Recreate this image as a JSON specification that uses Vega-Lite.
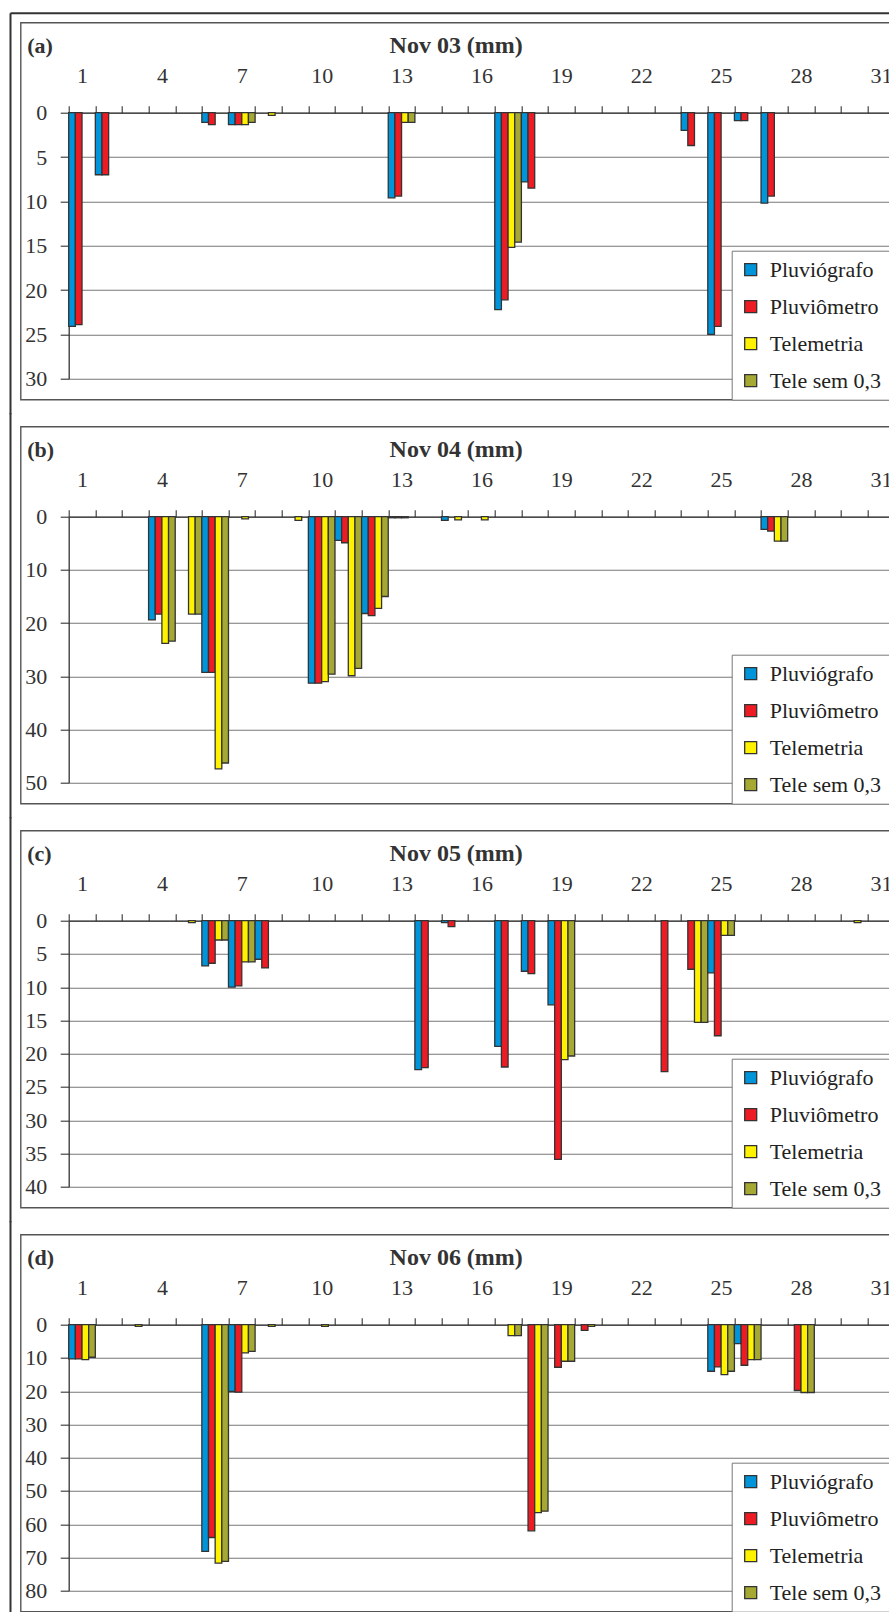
{
  "$schema": "https://vega.github.io/schema/vega-lite/v6.json",
  "padding": {"left": 8.7, "top": 11.7, "right": 0, "bottom": 0},
  "background": "white",
  "spacing": 27,
  "bounds": "flush",
  "resolve": {"scale": {"color": "independent"}, "legend": {"color": "independent"}},
  "datasets": {
    "a": [
      {"day": 1, "serie": "Pluviógrafo", "value": 24.1}, {"day": 1, "serie": "Pluviômetro", "value": 23.9},
      {"day": 2, "serie": "Pluviógrafo", "value": 7.0}, {"day": 2, "serie": "Pluviômetro", "value": 7.0},
      {"day": 6, "serie": "Pluviógrafo", "value": 1.1}, {"day": 6, "serie": "Pluviômetro", "value": 1.35},
      {"day": 7, "serie": "Pluviógrafo", "value": 1.35}, {"day": 7, "serie": "Pluviômetro", "value": 1.35}, {"day": 7, "serie": "Telemetria", "value": 1.35}, {"day": 7, "serie": "Tele sem 0,3", "value": 1.1},
      {"day": 8, "serie": "Telemetria", "value": 0.3},
      {"day": 13, "serie": "Pluviógrafo", "value": 9.6}, {"day": 13, "serie": "Pluviômetro", "value": 9.4}, {"day": 13, "serie": "Telemetria", "value": 1.1}, {"day": 13, "serie": "Tele sem 0,3", "value": 1.1},
      {"day": 17, "serie": "Pluviógrafo", "value": 22.2}, {"day": 17, "serie": "Pluviômetro", "value": 21.1}, {"day": 17, "serie": "Telemetria", "value": 15.2}, {"day": 17, "serie": "Tele sem 0,3", "value": 14.6},
      {"day": 18, "serie": "Pluviógrafo", "value": 7.8}, {"day": 18, "serie": "Pluviômetro", "value": 8.5},
      {"day": 24, "serie": "Pluviógrafo", "value": 2.0}, {"day": 24, "serie": "Pluviômetro", "value": 3.7},
      {"day": 25, "serie": "Pluviógrafo", "value": 25.0}, {"day": 25, "serie": "Pluviômetro", "value": 24.1},
      {"day": 26, "serie": "Pluviógrafo", "value": 0.9}, {"day": 26, "serie": "Pluviômetro", "value": 0.9},
      {"day": 27, "serie": "Pluviógrafo", "value": 10.2}, {"day": 27, "serie": "Pluviômetro", "value": 9.4}
    ],
    "b": [
      {"day": 4, "serie": "Pluviógrafo", "value": 19.4}, {"day": 4, "serie": "Pluviômetro", "value": 18.3}, {"day": 4, "serie": "Telemetria", "value": 23.8}, {"day": 4, "serie": "Tele sem 0,3", "value": 23.4},
      {"day": 5, "serie": "Telemetria", "value": 18.3}, {"day": 5, "serie": "Tele sem 0,3", "value": 18.3},
      {"day": 6, "serie": "Pluviógrafo", "value": 29.25}, {"day": 6, "serie": "Pluviômetro", "value": 29.25}, {"day": 6, "serie": "Telemetria", "value": 47.4}, {"day": 6, "serie": "Tele sem 0,3", "value": 46.3},
      {"day": 7, "serie": "Telemetria", "value": 0.4},
      {"day": 9, "serie": "Telemetria", "value": 0.7},
      {"day": 10, "serie": "Pluviógrafo", "value": 31.3}, {"day": 10, "serie": "Pluviômetro", "value": 31.3}, {"day": 10, "serie": "Telemetria", "value": 31.0}, {"day": 10, "serie": "Tele sem 0,3", "value": 29.6},
      {"day": 11, "serie": "Pluviógrafo", "value": 4.45}, {"day": 11, "serie": "Pluviômetro", "value": 4.9}, {"day": 11, "serie": "Telemetria", "value": 29.9}, {"day": 11, "serie": "Tele sem 0,3", "value": 28.5},
      {"day": 12, "serie": "Pluviógrafo", "value": 18.2}, {"day": 12, "serie": "Pluviômetro", "value": 18.6}, {"day": 12, "serie": "Telemetria", "value": 17.25}, {"day": 12, "serie": "Tele sem 0,3", "value": 15.0},
      {"day": 13, "serie": "Pluviógrafo", "value": 0.2}, {"day": 13, "serie": "Pluviômetro", "value": 0.2}, {"day": 13, "serie": "Telemetria", "value": 0.2},
      {"day": 15, "serie": "Pluviógrafo", "value": 0.7}, {"day": 15, "serie": "Telemetria", "value": 0.6},
      {"day": 16, "serie": "Telemetria", "value": 0.6},
      {"day": 27, "serie": "Pluviógrafo", "value": 2.4}, {"day": 27, "serie": "Pluviômetro", "value": 2.7}, {"day": 27, "serie": "Telemetria", "value": 4.6}, {"day": 27, "serie": "Tele sem 0,3", "value": 4.6}
    ],
    "c": [
      {"day": 5, "serie": "Telemetria", "value": 0.3},
      {"day": 6, "serie": "Pluviógrafo", "value": 6.8}, {"day": 6, "serie": "Pluviômetro", "value": 6.4}, {"day": 6, "serie": "Telemetria", "value": 2.9}, {"day": 6, "serie": "Tele sem 0,3", "value": 2.9},
      {"day": 7, "serie": "Pluviógrafo", "value": 10.0}, {"day": 7, "serie": "Pluviômetro", "value": 9.8}, {"day": 7, "serie": "Telemetria", "value": 6.2}, {"day": 7, "serie": "Tele sem 0,3", "value": 6.2},
      {"day": 8, "serie": "Pluviógrafo", "value": 5.8}, {"day": 8, "serie": "Pluviômetro", "value": 7.1},
      {"day": 14, "serie": "Pluviógrafo", "value": 22.4}, {"day": 14, "serie": "Pluviômetro", "value": 22.1},
      {"day": 15, "serie": "Pluviógrafo", "value": 0.3}, {"day": 15, "serie": "Pluviômetro", "value": 0.9},
      {"day": 17, "serie": "Pluviógrafo", "value": 18.9}, {"day": 17, "serie": "Pluviômetro", "value": 22.0},
      {"day": 18, "serie": "Pluviógrafo", "value": 7.6}, {"day": 18, "serie": "Pluviômetro", "value": 7.95},
      {"day": 19, "serie": "Pluviógrafo", "value": 12.65}, {"day": 19, "serie": "Pluviômetro", "value": 35.9}, {"day": 19, "serie": "Telemetria", "value": 20.9}, {"day": 19, "serie": "Tele sem 0,3", "value": 20.35},
      {"day": 23, "serie": "Pluviômetro", "value": 22.7},
      {"day": 24, "serie": "Pluviômetro", "value": 7.3}, {"day": 24, "serie": "Telemetria", "value": 15.3}, {"day": 24, "serie": "Tele sem 0,3", "value": 15.3},
      {"day": 25, "serie": "Pluviógrafo", "value": 7.85}, {"day": 25, "serie": "Pluviômetro", "value": 17.3}, {"day": 25, "serie": "Telemetria", "value": 2.2}, {"day": 25, "serie": "Tele sem 0,3", "value": 2.2},
      {"day": 30, "serie": "Telemetria", "value": 0.3}
    ],
    "d": [
      {"day": 1, "serie": "Pluviógrafo", "value": 10.3}, {"day": 1, "serie": "Pluviômetro", "value": 10.3}, {"day": 1, "serie": "Telemetria", "value": 10.5}, {"day": 1, "serie": "Tele sem 0,3", "value": 9.8},
      {"day": 3, "serie": "Telemetria", "value": 0.5},
      {"day": 6, "serie": "Pluviógrafo", "value": 68.2}, {"day": 6, "serie": "Pluviômetro", "value": 64.0}, {"day": 6, "serie": "Telemetria", "value": 71.7}, {"day": 6, "serie": "Tele sem 0,3", "value": 71.2},
      {"day": 7, "serie": "Pluviógrafo", "value": 20.1}, {"day": 7, "serie": "Pluviômetro", "value": 20.3}, {"day": 7, "serie": "Telemetria", "value": 8.5}, {"day": 7, "serie": "Tele sem 0,3", "value": 8.0},
      {"day": 8, "serie": "Telemetria", "value": 0.5},
      {"day": 10, "serie": "Telemetria", "value": 0.5},
      {"day": 17, "serie": "Telemetria", "value": 3.3}, {"day": 17, "serie": "Tele sem 0,3", "value": 3.3},
      {"day": 18, "serie": "Pluviômetro", "value": 62.0}, {"day": 18, "serie": "Telemetria", "value": 56.5}, {"day": 18, "serie": "Tele sem 0,3", "value": 56.1},
      {"day": 19, "serie": "Pluviômetro", "value": 12.8}, {"day": 19, "serie": "Telemetria", "value": 11.0}, {"day": 19, "serie": "Tele sem 0,3", "value": 11.0},
      {"day": 20, "serie": "Pluviômetro", "value": 1.7}, {"day": 20, "serie": "Telemetria", "value": 0.5},
      {"day": 25, "serie": "Pluviógrafo", "value": 14.0}, {"day": 25, "serie": "Pluviômetro", "value": 12.7}, {"day": 25, "serie": "Telemetria", "value": 15.0}, {"day": 25, "serie": "Tele sem 0,3", "value": 14.0},
      {"day": 26, "serie": "Pluviógrafo", "value": 5.7}, {"day": 26, "serie": "Pluviômetro", "value": 12.2}, {"day": 26, "serie": "Telemetria", "value": 10.5}, {"day": 26, "serie": "Tele sem 0,3", "value": 10.5},
      {"day": 28, "serie": "Pluviômetro", "value": 19.8}, {"day": 28, "serie": "Telemetria", "value": 20.4}, {"day": 28, "serie": "Tele sem 0,3", "value": 20.4}
    ]
  },
  "vconcat": [
    {
      "width": 869, "height": 377,
      "resolve": {"scale": {"x": "independent", "y": "independent"}, "axis": {"x": "independent", "y": "independent"}},
      "layer": [
        {
          "data": {"name": "a"},
          "mark": {"type": "bar", "stroke": "#333333", "strokeWidth": 1.3},
          "encoding": {
            "x": {"field": "day", "type": "ordinal",
              "scale": {"domain": [1,2,3,4,5,6,7,8,9,10,11,12,13,14,15,16,17,18,19,20,21,22,23,24,25,26,27,28,29,30,31], "range": [48, 873.5], "paddingInner": 0, "paddingOuter": 0},
              "axis": {"orient": "top", "offset": -90, "title": "Nov 03 (mm)", "titleX": 435, "titleY": -60}},
            "xOffset": {"field": "serie", "type": "nominal", "scale": {"domain": ["Pluviógrafo", "Pluviômetro", "Telemetria", "Tele sem 0,3"], "paddingInner": 0, "paddingOuter": 0}},
            "y": {"field": "value", "type": "quantitative",
              "scale": {"domain": [0, 30], "range": [90, 356], "nice": false},
              "axis": {"orient": "left", "offset": 0, "values": [0, 5, 10, 15, 20, 25, 30], "grid": true, "domain": false, "ticks": false, "labels": false, "title": null}},
            "color": {"field": "serie", "type": "nominal",
              "scale": {"domain": ["Pluviógrafo", "Pluviômetro", "Telemetria", "Tele sem 0,3"], "range": ["#0095da", "#ed1c24", "#fff200", "#a5a833"]},
              "legend": {"title": null}}
          }
        },
        {
          "data": {"name": "a"},
          "mark": {"type": "point", "opacity": 0},
          "encoding": {
            "x": {"field": "day", "type": "ordinal", "scale": {"domain": [1,2,3,4,5,6,7,8,9,10,11,12,13,14,15,16,17,18,19,20,21,22,23,24,25,26,27,28,29,30,31], "range": [48, 873.5], "paddingInner": 0, "paddingOuter": 0}, "axis": null},
            "y": {"field": "value", "type": "quantitative",
              "scale": {"domain": [0, 30], "range": [90, 356], "nice": false},
              "axis": {"orient": "left", "offset": -48, "values": [0, 5, 10, 15, 20, 25, 30], "grid": false, "title": "(a)"}}
          }
        },
        {
          "data": {"values": [{}]},
          "mark": {"type": "point", "opacity": 0},
          "encoding": {
            "x": {"datum": 0.5, "type": "quantitative", "scale": {"domain": [0, 1], "range": [-10.7, 900]},
              "axis": {"orient": "top", "offset": 10, "tickBand": "center", "domain": true, "domainWidth": 2, "domainColor": "#333333", "ticks": false, "labels": false, "grid": false, "title": null}},
            "y": {"datum": 0.5, "type": "quantitative", "scale": {"domain": [0, 1], "range": [-10, 391]},
              "axis": {"orient": "left", "offset": 10.7, "domain": true, "domainWidth": 2, "domainColor": "#333333", "ticks": false, "labels": false, "grid": false, "title": null}}
          }
        }
      ]
    },
    {
      "width": 869, "height": 377,
      "resolve": {"scale": {"x": "independent", "y": "independent"}, "axis": {"x": "independent", "y": "independent"}},
      "layer": [
        {
          "data": {"name": "b"},
          "mark": {"type": "bar", "stroke": "#333333", "strokeWidth": 1.3},
          "encoding": {
            "x": {"field": "day", "type": "ordinal",
              "scale": {"domain": [1,2,3,4,5,6,7,8,9,10,11,12,13,14,15,16,17,18,19,20,21,22,23,24,25,26,27,28,29,30,31], "range": [48, 873.5], "paddingInner": 0, "paddingOuter": 0},
              "axis": {"orient": "top", "offset": -90, "title": "Nov 04 (mm)", "titleX": 435, "titleY": -60}},
            "xOffset": {"field": "serie", "type": "nominal", "scale": {"domain": ["Pluviógrafo", "Pluviômetro", "Telemetria", "Tele sem 0,3"], "paddingInner": 0, "paddingOuter": 0}},
            "y": {"field": "value", "type": "quantitative",
              "scale": {"domain": [0, 50], "range": [90, 356], "nice": false},
              "axis": {"orient": "left", "offset": 0, "values": [0, 10, 20, 30, 40, 50], "grid": true, "domain": false, "ticks": false, "labels": false, "title": null}},
            "color": {"field": "serie", "type": "nominal",
              "scale": {"domain": ["Pluviógrafo", "Pluviômetro", "Telemetria", "Tele sem 0,3"], "range": ["#0095da", "#ed1c24", "#fff200", "#a5a833"]},
              "legend": {"title": null}}
          }
        },
        {
          "data": {"name": "b"},
          "mark": {"type": "point", "opacity": 0},
          "encoding": {
            "x": {"field": "day", "type": "ordinal", "scale": {"domain": [1,2,3,4,5,6,7,8,9,10,11,12,13,14,15,16,17,18,19,20,21,22,23,24,25,26,27,28,29,30,31], "range": [48, 873.5], "paddingInner": 0, "paddingOuter": 0}, "axis": null},
            "y": {"field": "value", "type": "quantitative",
              "scale": {"domain": [0, 50], "range": [90, 356], "nice": false},
              "axis": {"orient": "left", "offset": -48, "values": [0, 10, 20, 30, 40, 50], "grid": false, "title": "(b)"}}
          }
        },
        {
          "data": {"values": [{}]},
          "mark": {"type": "point", "opacity": 0},
          "encoding": {
            "y": {"datum": 0.5, "type": "quantitative", "scale": {"domain": [0, 1], "range": [-14, 391]},
              "axis": {"orient": "left", "offset": 10.7, "domain": true, "domainWidth": 2, "domainColor": "#333333", "ticks": false, "labels": false, "grid": false, "title": null}}
          }
        }
      ]
    },
    {
      "width": 869, "height": 377,
      "resolve": {"scale": {"x": "independent", "y": "independent"}, "axis": {"x": "independent", "y": "independent"}},
      "layer": [
        {
          "data": {"name": "c"},
          "mark": {"type": "bar", "stroke": "#333333", "strokeWidth": 1.3},
          "encoding": {
            "x": {"field": "day", "type": "ordinal",
              "scale": {"domain": [1,2,3,4,5,6,7,8,9,10,11,12,13,14,15,16,17,18,19,20,21,22,23,24,25,26,27,28,29,30,31], "range": [48, 873.5], "paddingInner": 0, "paddingOuter": 0},
              "axis": {"orient": "top", "offset": -90, "title": "Nov 05 (mm)", "titleX": 435, "titleY": -60}},
            "xOffset": {"field": "serie", "type": "nominal", "scale": {"domain": ["Pluviógrafo", "Pluviômetro", "Telemetria", "Tele sem 0,3"], "paddingInner": 0, "paddingOuter": 0}},
            "y": {"field": "value", "type": "quantitative",
              "scale": {"domain": [0, 40], "range": [90, 356], "nice": false},
              "axis": {"orient": "left", "offset": 0, "values": [0, 5, 10, 15, 20, 25, 30, 35, 40], "grid": true, "domain": false, "ticks": false, "labels": false, "title": null}},
            "color": {"field": "serie", "type": "nominal",
              "scale": {"domain": ["Pluviógrafo", "Pluviômetro", "Telemetria", "Tele sem 0,3"], "range": ["#0095da", "#ed1c24", "#fff200", "#a5a833"]},
              "legend": {"title": null}}
          }
        },
        {
          "data": {"name": "c"},
          "mark": {"type": "point", "opacity": 0},
          "encoding": {
            "x": {"field": "day", "type": "ordinal", "scale": {"domain": [1,2,3,4,5,6,7,8,9,10,11,12,13,14,15,16,17,18,19,20,21,22,23,24,25,26,27,28,29,30,31], "range": [48, 873.5], "paddingInner": 0, "paddingOuter": 0}, "axis": null},
            "y": {"field": "value", "type": "quantitative",
              "scale": {"domain": [0, 40], "range": [90, 356], "nice": false},
              "axis": {"orient": "left", "offset": -48, "values": [0, 5, 10, 15, 20, 25, 30, 35, 40], "grid": false, "title": "(c)"}}
          }
        },
        {
          "data": {"values": [{}]},
          "mark": {"type": "point", "opacity": 0},
          "encoding": {
            "y": {"datum": 0.5, "type": "quantitative", "scale": {"domain": [0, 1], "range": [-14, 391]},
              "axis": {"orient": "left", "offset": 10.7, "domain": true, "domainWidth": 2, "domainColor": "#333333", "ticks": false, "labels": false, "grid": false, "title": null}}
          }
        }
      ]
    },
    {
      "width": 869, "height": 377,
      "resolve": {"scale": {"x": "independent", "y": "independent"}, "axis": {"x": "independent", "y": "independent"}},
      "layer": [
        {
          "data": {"name": "d"},
          "mark": {"type": "bar", "stroke": "#333333", "strokeWidth": 1.3},
          "encoding": {
            "x": {"field": "day", "type": "ordinal",
              "scale": {"domain": [1,2,3,4,5,6,7,8,9,10,11,12,13,14,15,16,17,18,19,20,21,22,23,24,25,26,27,28,29,30,31], "range": [48, 873.5], "paddingInner": 0, "paddingOuter": 0},
              "axis": {"orient": "top", "offset": -90, "title": "Nov 06 (mm)", "titleX": 435, "titleY": -60}},
            "xOffset": {"field": "serie", "type": "nominal", "scale": {"domain": ["Pluviógrafo", "Pluviômetro", "Telemetria", "Tele sem 0,3"], "paddingInner": 0, "paddingOuter": 0}},
            "y": {"field": "value", "type": "quantitative",
              "scale": {"domain": [0, 80], "range": [90, 356], "nice": false},
              "axis": {"orient": "left", "offset": 0, "values": [0, 10, 20, 30, 40, 50, 60, 70, 80], "grid": true, "domain": false, "ticks": false, "labels": false, "title": null}},
            "color": {"field": "serie", "type": "nominal",
              "scale": {"domain": ["Pluviógrafo", "Pluviômetro", "Telemetria", "Tele sem 0,3"], "range": ["#0095da", "#ed1c24", "#fff200", "#a5a833"]},
              "legend": {"title": null}}
          }
        },
        {
          "data": {"name": "d"},
          "mark": {"type": "point", "opacity": 0},
          "encoding": {
            "x": {"field": "day", "type": "ordinal", "scale": {"domain": [1,2,3,4,5,6,7,8,9,10,11,12,13,14,15,16,17,18,19,20,21,22,23,24,25,26,27,28,29,30,31], "range": [48, 873.5], "paddingInner": 0, "paddingOuter": 0}, "axis": null},
            "y": {"field": "value", "type": "quantitative",
              "scale": {"domain": [0, 80], "range": [90, 356], "nice": false},
              "axis": {"orient": "left", "offset": -48, "values": [0, 10, 20, 30, 40, 50, 60, 70, 80], "grid": false, "title": "(d)"}}
          }
        },
        {
          "data": {"values": [{}]},
          "mark": {"type": "point", "opacity": 0},
          "encoding": {
            "y": {"datum": 0.5, "type": "quantitative", "scale": {"domain": [0, 1], "range": [-14, 391]},
              "axis": {"orient": "left", "offset": 10.7, "domain": true, "domainWidth": 2, "domainColor": "#333333", "ticks": false, "labels": false, "grid": false, "title": null}}
          }
        }
      ]
    }
  ],
  "config": {
    "view": {"stroke": "#555555", "strokeWidth": 1.4},
    "axis": {
      "labelFont": "Liberation Serif", "labelFontSize": 22, "labelColor": "#333333",
      "titleFont": "Liberation Serif", "titleFontSize": 24, "titleFontWeight": "bold", "titleColor": "#333333",
      "domainColor": "#333333", "domainWidth": 1.3, "tickColor": "#333333", "tickWidth": 1.1,
      "gridColor": "#777777", "gridWidth": 1.1
    },
    "axisX": {
      "tickBand": "extent", "tickSize": 7, "labelPadding": 23, "labelBaseline": "alphabetic",
      "labelAngle": 0, "labelOverlap": false, "grid": false,
      "labelExpr": "(datum.value - 1) % 3 == 0 ? datum.label : ''",
      "titleBaseline": "alphabetic", "titleAlign": "center", "titleAngle": 0
    },
    "axisY": {
      "tickSize": 8.5, "labelPadding": 13.5,
      "titleAngle": 0, "titleX": -42, "titleY": 29.5, "titleAlign": "left", "titleBaseline": "alphabetic",
      "titleFontSize": 22
    },
    "legend": {
      "orient": "bottom-right", "offset": 0, "padding": 8, "rowPadding": 15,
      "strokeColor": "#777777", "fillColor": "white",
      "labelFont": "Liberation Serif", "labelFontSize": 22, "labelColor": "#222222", "labelOffset": 8,
      "symbolType": "square", "symbolSize": 144, "symbolStrokeColor": "#333333", "symbolStrokeWidth": 1.3
    }
  }
}
